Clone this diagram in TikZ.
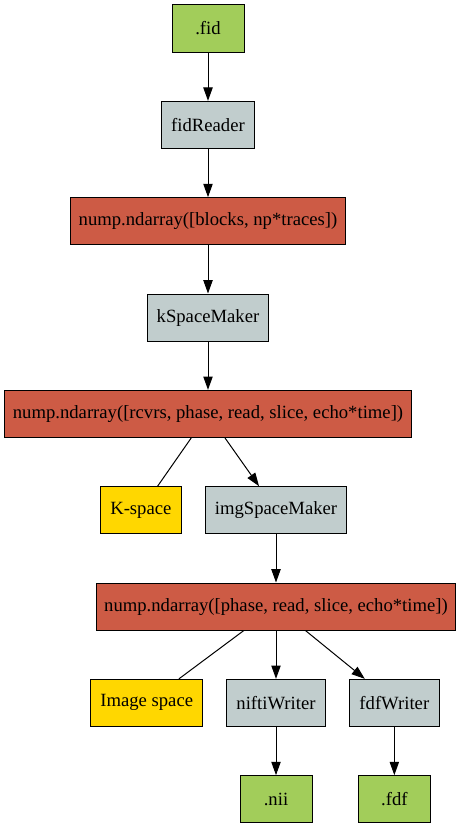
\documentclass[tikz,border=0pt]{standalone}
\usepackage{fontspec}
\setmainfont{Liberation Serif}
\usepackage{tikz}
\usetikzlibrary{arrows.meta,positioning}
\definecolor{vnfile}{HTML}{A2CD5A}
\definecolor{vnproc}{HTML}{C1CDCD}
\definecolor{vnarr}{HTML}{CD5B45}
\definecolor{vnview}{HTML}{FFD700}
\begin{document}
\begin{tikzpicture}[font=\rmfamily\fontsize{14}{17}\selectfont, node distance=36.2pt and 17.4pt,
  b/.style={draw=black, line width=0.75pt, fill=vnproc, inner xsep=7.2pt, minimum width=54pt, minimum height=35.3pt, align=center},
  file/.style={b, fill=vnfile},
  arr/.style={b, fill=vnarr, inner xsep=6pt},
  view/.style={b, fill=vnview},
  e/.style={-{Triangle[length=10pt, width=7pt]}, line width=0.75pt, black},
  ln/.style={line width=0.75pt, black}]
  \useasboundingbox (0,0) rectangle (345pt,-620.25pt);
  \node[file] (fid) at (156pt,-21.4pt) {.fid};
  \node[b, below=of fid] (rdr) {fidReader};
  \node[arr, below=of rdr] (raw) {nump.ndarray([blocks, np*traces])};
  \node[b, below=of raw] (ksm) {kSpaceMaker};
  \node[arr, below=of ksm] (kdat) {nump.ndarray([rcvrs, phase, read, slice, echo*time])};
  \node[b, below=of kdat, xshift=51pt] (ism) {imgSpaceMaker};
  \node[view, left=of ism] (ksp) {K-space};
  \node[arr, below=of ism] (idat) {nump.ndarray([phase, read, slice, echo*time])};
  \node[b, below=of idat] (nw) {niftiWriter};
  \node[view, left=of nw] (isp) {Image space};
  \node[b, right=of nw, minimum width=67.5pt] (fw) {fdfWriter};
  \node[file, below=of nw] (nii) {.nii};
  \node[file, below=of fw] (fdf) {.fdf};
  \draw[e] (fid) -- (rdr);
  \draw[e] (rdr) -- (raw);
  \draw[e] (raw) -- (ksm);
  \draw[e] (ksm) -- (kdat);
  \draw[ln] (kdat) -- (ksp);
  \draw[e] (kdat) -- (ism);
  \draw[e] (ism) -- (idat);
  \draw[ln] (idat) -- (isp);
  \draw[e] (idat) -- (nw);
  \draw[e] (idat) -- (fw);
  \draw[e] (nw) -- (nii);
  \draw[e] (fw) -- (fdf);
\end{tikzpicture}
\end{document}
